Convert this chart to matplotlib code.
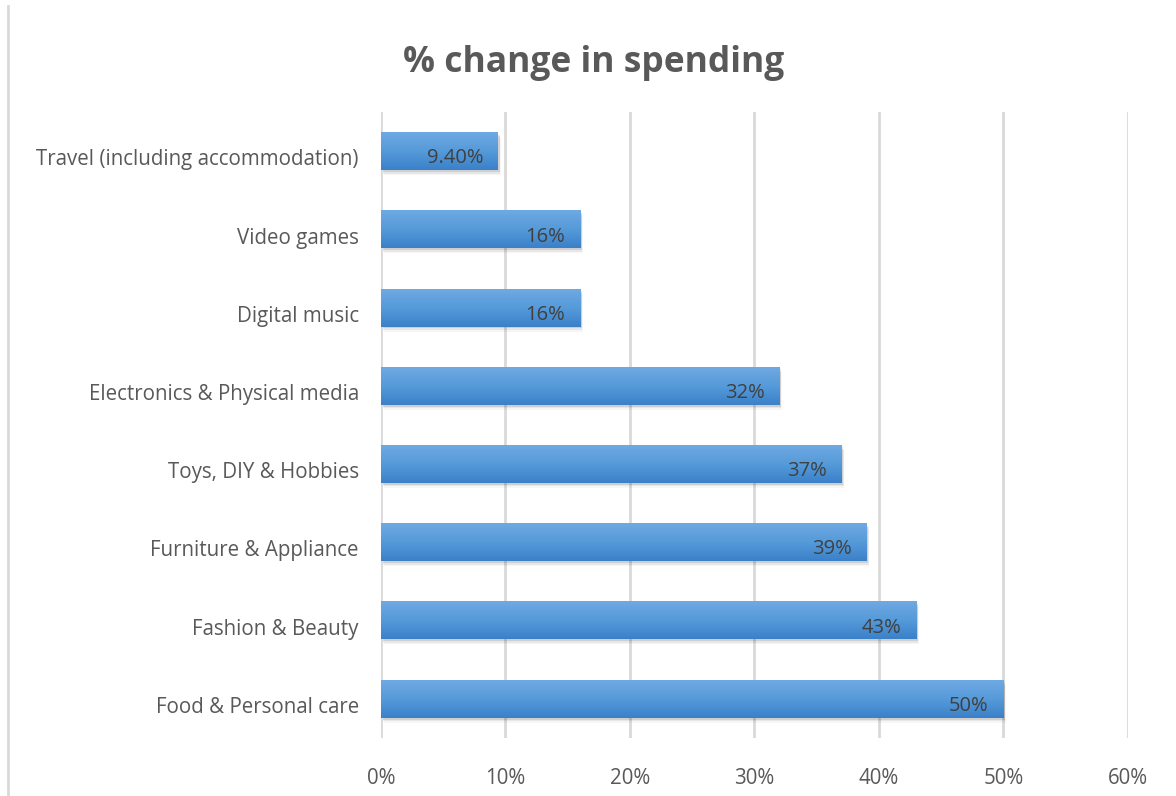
import numpy as np
import matplotlib.pyplot as plt
import matplotlib.transforms as mtransforms
from matplotlib.patches import Rectangle
from matplotlib.lines import Line2D
from matplotlib.colors import LinearSegmentedColormap

plt.rcParams['font.family'] = ['Open Sans', 'DejaVu Sans']

categories = ['Food & Personal care', 'Fashion & Beauty', 'Furniture & Appliance',
              'Toys, DIY & Hobbies', 'Electronics & Physical media', 'Digital music',
              'Video games', 'Travel (including accommodation)']
values = [50, 43, 39, 37, 32, 16, 16, 9.4]
value_labels = ['50%', '43%', '39%', '37%', '32%', '16%', '16%', '9.40%']
xticks = [0, 10, 20, 30, 40, 50, 60]

fig = plt.figure(figsize=(11.76, 7.96), dpi=100)
ax = fig.add_axes([0.324, 0.073, 0.635, 0.786])

grey = '#595959'
bar_h = 0.48
grad = LinearSegmentedColormap.from_list('bar', ['#3b81c9', '#559ad9', '#6fa9e2'])

y = np.arange(len(categories))
for yi, v, lab in zip(y, values, value_labels):
    # soft drop shadow
    for k, a in enumerate([0.10, 0.06, 0.035]):
        off = 0.025 + 0.02 * k
        ax.add_patch(Rectangle((0.12 + 0.05 * k, yi - bar_h / 2 - off), v, bar_h,
                               facecolor='black', alpha=a, lw=0, zorder=2))
    # vertical gradient fill, lighter at the top
    ax.imshow(np.linspace(0, 1, 64).reshape(-1, 1), cmap=grad, aspect='auto',
              extent=[0, v, yi - bar_h / 2, yi + bar_h / 2], origin='lower',
              zorder=3, interpolation='bilinear')
    ax.text(v - 1.2, yi - 0.09, lab, ha='right', va='center', fontsize=14.5,
            color='#404040', zorder=5)

ax.set_xlim(0, 60)
ax.set_ylim(-0.5, len(categories) - 0.5)
ax.set_xticks(xticks)
ax.set_xticklabels([f'{t}%' for t in xticks])
ax.set_yticks(y)
ax.set_yticklabels(categories)
ax.tick_params(axis='both', length=0, labelsize=14.8, labelcolor=grey)
ax.tick_params(axis='x', pad=22)
ax.tick_params(axis='y', pad=16)

# category labels sit a little below the bar centre
shift = mtransforms.ScaledTranslation(0, -6 / 100, fig.dpi_scale_trans)
for t in ax.get_yticklabels():
    t.set_transform(t.get_transform() + shift)

ax.xaxis.grid(True, color='#d9d9d9', lw=2, zorder=0)
ax.set_axisbelow(True)
for s in ax.spines.values():
    s.set_visible(False)

fig.text(0.505, 0.921, '% change in spending', ha='center', va='center',
         fontsize=25.5, fontweight='bold', color=grey)

# chart area border on the left
fig.add_artist(Line2D([8 / 1176, 8 / 1176], [0, 1 - 6 / 796],
                      transform=fig.transFigure, color='#d9d9d9', lw=2))

fig.savefig('out.png', dpi=100, facecolor='white')
